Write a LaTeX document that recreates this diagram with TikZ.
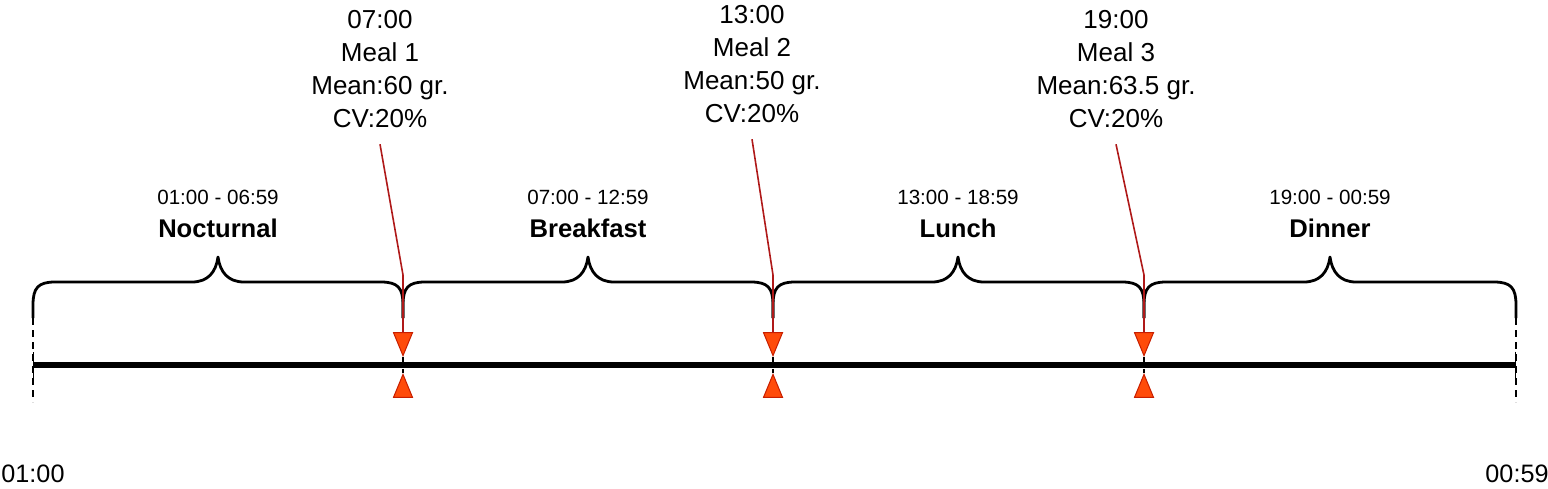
\documentclass[tikz,border=0pt]{standalone}
\usepackage{fontspec}
\setmainfont{Liberation Sans}
\usetikzlibrary{shapes.geometric,arrows.meta}
\definecolor{mealred}{RGB}{175,25,25}
\definecolor{markfill}{RGB}{255,75,10}
\definecolor{markdraw}{RGB}{200,30,0}
\begin{document}
\begin{tikzpicture}[x=0.5pt,y=-0.5pt,
    timeline/.style={line width=3pt},
    endtick/.style={line width=0.6pt,dash pattern=on 3.5pt off 2.5pt},
    bracepath/.style={line width=1.4pt,line join=round},
    meallabel/.style={anchor=north,align=center,inner sep=8pt,font=\fontsize{13}{16.5}\selectfont},
    periodlabel/.style={anchor=south,align=center,inner sep=0pt,font=\fontsize{12.8}{16.5}\selectfont\bfseries},
    endlabel/.style={anchor=base,inner sep=0pt,font=\fontsize{12.6}{16}\selectfont},
    mealline/.style={draw=mealred,line width=0.8pt},
    marker/.style={isosceles triangle,isosceles triangle stretches,fill=markfill,draw=markdraw,
        line width=0.5pt,inner sep=0pt,minimum width=9.5pt,minimum height=11.5pt},
    markdown/.style={marker,shape border rotate=270},
    markup/.style={marker,shape border rotate=90}]
    \useasboundingbox (0,0) rectangle (1548,488);
    \coordinate (t0) at (33,365);
    \coordinate (t1) at (1516,365);
    \foreach \a/\m/\b in {33/218/403,403/588/773,773/958/1144,1144/1330/1516}
        \draw[bracepath] (\a,318) -- (\a,305) .. controls (\a,288) and (\a+5,282) .. (\a+22,282)
            -- (\m-26,282) .. controls (\m-10,282) and (\m-2,272) .. (\m,257)
            .. controls (\m+2,272) and (\m+10,282) .. (\m+26,282)
            -- (\b-22,282) .. controls (\b-5,282) and (\b,288) .. (\b,305) -- (\b,318);
    \node[periodlabel] (p1) at (218,238) {{\mdseries\fontsize{10.3}{12}\selectfont 01:00 - 06:59}\\Nocturnal};
    \node[periodlabel] (p2) at (588,238) {{\mdseries\fontsize{10.3}{12}\selectfont 07:00 - 12:59}\\Breakfast};
    \node[periodlabel] (p3) at (958,238) {{\mdseries\fontsize{10.3}{12}\selectfont 13:00 - 18:59}\\Lunch};
    \node[periodlabel] (p4) at (1330,238) {{\mdseries\fontsize{10.3}{12}\selectfont 19:00 - 00:59}\\Dinner};
    \draw[timeline,{Bar[width=13.5pt,line width=0.6pt]}-{Bar[width=13.5pt,line width=0.6pt]}] (t0) -- (t1);
    \draw[endtick] (33,318) -- (33,402);
    \draw[endtick] (1516,318) -- (1516,402);
    \node[endlabel] (s0) at (33,482) {01:00};
    \node[endlabel] (s1) at (1517,482) {00:59};
    \foreach \x/\n in {403/1,773/2,1144/3}{
        \node[markdown] (d\n) at (\x,339) {};
        \node[markup] (u\n) at (\x,391) {};
        \coordinate (k\n) at (\x,275);
        \draw[endtick] (d\n.south) -- (u\n.north);
    }
    \node[meallabel] (m1) at (380,-6) {07:00\\Meal 1\\Mean:60 gr.\\CV:20\%};
    \node[meallabel] (m2) at (752,-11) {13:00\\Meal 2\\Mean:50 gr.\\CV:20\%};
    \node[meallabel] (m3) at (1116,-6) {19:00\\Meal 3\\Mean:63.5 gr.\\CV:20\%};
    \foreach \n in {1,2,3}
        \draw[mealline] (m\n.south) -- (k\n) -- (d\n.north);
\end{tikzpicture}
\end{document}
